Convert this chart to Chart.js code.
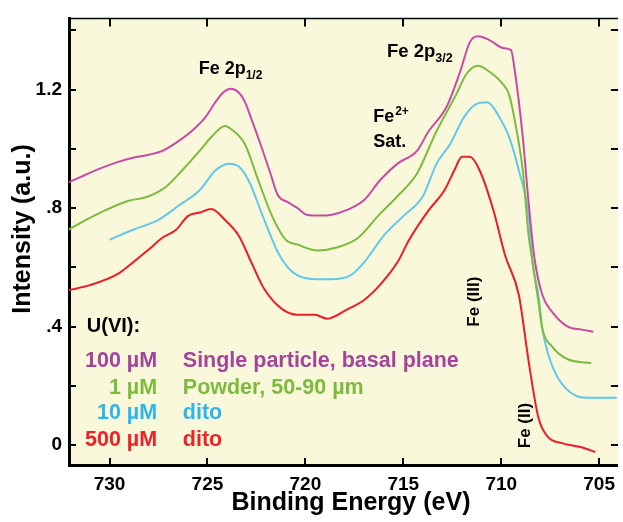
<!DOCTYPE html>
<html>
<head>
<meta charset="utf-8">
<script src="https://cdn.jsdelivr.net/npm/chart.js@4.4.0/dist/chart.umd.min.js"></script>
<style>
  html, body { margin: 0; padding: 0; background: #fff; }
</style>
</head>
<body>
<canvas id="myChart" width="623" height="522"></canvas>
<script>
// binding energy (eV) / intensity (a.u.)
var energy100 = [732.1, 731.3, 730.5, 729.6, 728.8, 728.0, 727.3, 726.5, 725.8, 725.1, 724.6, 724.2, 723.8, 723.4, 723.1, 722.7, 722.3, 721.8, 721.4, 720.9, 720.4, 719.9, 719.3, 718.7, 717.9, 717.0, 716.2, 715.3, 714.3, 713.7, 712.8, 712.1, 711.6, 711.2, 710.6, 709.9, 709.5, 709.3, 708.9, 708.6, 708.3, 707.9, 707.4, 706.6, 705.9, 705.3];
var intens100 = [0.887, 0.91, 0.933, 0.955, 0.97, 0.98, 0.993, 1.025, 1.06, 1.107, 1.157, 1.19, 1.203, 1.19, 1.16, 1.09, 1.017, 0.92, 0.843, 0.82, 0.80, 0.777, 0.775, 0.777, 0.793, 0.827, 0.893, 0.95, 0.993, 1.06, 1.14, 1.26, 1.36, 1.38, 1.367, 1.34, 1.333, 1.26, 1.04, 0.817, 0.63, 0.507, 0.45, 0.40, 0.39, 0.383];

var energy1 = [732.1, 731.2, 730.2, 729.1, 728.0, 727.1, 726.3, 725.4, 724.8, 724.1, 723.8, 723.1, 722.4, 721.7, 721.0, 720.4, 719.4, 718.4, 717.3, 716.3, 715.3, 714.3, 713.3, 712.3, 711.8, 711.2, 710.6, 709.9, 709.6, 709.3, 708.9, 708.6, 708.4, 708.1, 707.9, 707.4, 706.6, 705.4];
var intens1 = [0.727, 0.76, 0.793, 0.823, 0.84, 0.873, 0.927, 0.993, 1.04, 1.077, 1.067, 1.017, 0.893, 0.773, 0.693, 0.677, 0.657, 0.667, 0.70, 0.773, 0.84, 0.917, 1.06, 1.183, 1.25, 1.28, 1.26, 1.217, 1.183, 1.093, 0.927, 0.707, 0.617, 0.483, 0.393, 0.333, 0.29, 0.277];

var energy10 = [730.0, 728.8, 727.5, 726.5, 725.4, 724.6, 723.9, 723.4, 722.9, 722.1, 721.4, 720.9, 720.4, 719.4, 718.7, 717.7, 717.0, 716.0, 715.0, 714.0, 713.3, 712.6, 711.9, 711.3, 710.7, 710.1, 709.6, 709.1, 708.6, 708.4, 708.1, 707.9, 707.6, 707.1, 706.2, 705.6, 704.1];
var intens10 = [0.693, 0.727, 0.76, 0.807, 0.86, 0.927, 0.95, 0.94, 0.893, 0.76, 0.65, 0.60, 0.573, 0.56, 0.56, 0.573, 0.617, 0.707, 0.773, 0.84, 0.95, 1.017, 1.107, 1.15, 1.157, 1.107, 1.04, 0.927, 0.773, 0.617, 0.507, 0.393, 0.307, 0.227, 0.167, 0.16, 0.16];

var energy500 = [732.1, 731.0, 729.6, 728.8, 728.0, 727.3, 726.6, 726.0, 725.4, 724.8, 724.1, 723.4, 722.8, 722.1, 721.2, 720.4, 719.5, 718.9, 717.9, 717.0, 716.2, 715.3, 714.7, 713.7, 712.9, 712.4, 712.0, 711.6, 711.1, 710.4, 709.8, 709.1, 708.6, 708.1, 707.6, 706.9, 705.9, 705.2];
var intens500 = [0.523, 0.54, 0.577, 0.617, 0.66, 0.70, 0.727, 0.773, 0.785, 0.797, 0.76, 0.707, 0.623, 0.527, 0.46, 0.44, 0.44, 0.427, 0.457, 0.49, 0.54, 0.617, 0.693, 0.793, 0.86, 0.927, 0.973, 0.973, 0.927, 0.793, 0.64, 0.507, 0.283, 0.093, 0.027, 0.007, -0.007, -0.023];

var xTickValues = [730, 725, 720, 715, 710, 705];
var yTickValues = [0, 0.2, 0.4, 0.6, 0.8, 1.0, 1.2, 1.4];
var yTickLabels = ['0', '', '.4', '', '.8', '', '1.2', ''];

var concLabels = ['100 µM', '1 µM', '10 µM', '500 µM'];
var sampleLabels = ['Single particle, basal plane', 'Powder, 50-90 µm', 'dito', 'dito'];

var lineColors = ['#C84AA8', '#7DBB3E', '#62C8EA', '#EE1C25'];
var textColors = ['#A4449C', '#7CBB40', '#2CB6EA', '#EE2229'];

var FONT = 'Arial, "Liberation Sans", sans-serif';

function pts(ex, iy) {
    return ex.map(function (e, i) { return { x: e, y: iy[i] }; });
}

function serie(ex, iy, color) {
    return {
        data: pts(ex, iy),
        borderColor: color,
        borderWidth: 2,
        pointRadius: 0,
        fill: false,
        cubicInterpolationMode: 'monotone'
    };
}

// background + frame + inward ticks + titles + annotations
var decor = {
    id: 'decor',
    beforeDraw: function (chart) {
        var a = chart.chartArea, ctx = chart.ctx;
        ctx.save();
        ctx.fillStyle = '#FAF8DA';
        ctx.fillRect(a.left, a.top, a.right - a.left, a.bottom - a.top);
        ctx.restore();
    },
    afterDraw: function (chart) {
        var a = chart.chartArea, ctx = chart.ctx;
        var sx = chart.scales.x, sy = chart.scales.y;
        ctx.save();
        ctx.strokeStyle = '#000';
        // top frame
        ctx.lineWidth = 1.5;
        ctx.beginPath();
        ctx.moveTo(a.left, a.top);
        ctx.lineTo(a.right, a.top);
        ctx.stroke();
        // ticks
        ctx.lineWidth = 2;
        ctx.beginPath();
        xTickValues.forEach(function (v) {
            var px = Math.round(sx.getPixelForValue(v));
            ctx.moveTo(px, a.top); ctx.lineTo(px, a.top + 8);
            ctx.moveTo(px, a.bottom); ctx.lineTo(px, a.bottom - 7);
        });
        yTickValues.forEach(function (v) {
            var py = Math.round(sy.getPixelForValue(v));
            ctx.moveTo(a.left, py); ctx.lineTo(a.left + 7, py);
            ctx.moveTo(a.right, py); ctx.lineTo(a.right - 7, py);
        });
        ctx.stroke();

        function X(v) { return sx.getPixelForValue(v); }
        function Y(v) { return sy.getPixelForValue(v); }

        ctx.fillStyle = '#000';

        // axis titles
        ctx.font = 'bold 25px ' + FONT;
        ctx.textAlign = 'center';
        ctx.textBaseline = 'alphabetic';
        ctx.fillText('Binding Energy (eV)', 351, 510);
        ctx.save();
        ctx.translate(30, 229);
        ctx.rotate(-Math.PI / 2);
        ctx.fillText('Intensity (a.u.)', 0, 0);
        ctx.restore();

        ctx.textAlign = 'left';

        // Fe 2p1/2
        ctx.font = 'bold 18px ' + FONT;
        var x0 = X(725.45), y0 = Y(1.253);
        ctx.fillText('Fe 2p', x0, y0);
        var w = ctx.measureText('Fe 2p').width;
        ctx.font = 'bold 12px ' + FONT;
        ctx.fillText('1/2', x0 + w, y0 + 5);

        // Fe 2p3/2
        ctx.font = 'bold 18.5px ' + FONT;
        x0 = X(715.83); y0 = Y(1.31);
        ctx.fillText('Fe 2p', x0, y0);
        w = ctx.measureText('Fe 2p').width;
        ctx.font = 'bold 12.5px ' + FONT;
        ctx.fillText('3/2', x0 + w, y0 + 5);

        // Fe2+ Sat.
        ctx.font = 'bold 18px ' + FONT;
        x0 = X(716.54); y0 = Y(1.09);
        ctx.fillText('Fe', x0, y0);
        w = ctx.measureText('Fe').width;
        ctx.font = 'bold 12px ' + FONT;
        ctx.fillText('2+', x0 + w + 1, y0 - 7);
        ctx.font = 'bold 18px ' + FONT;
        ctx.fillText('Sat.', X(716.54), Y(1.007));

        // rotated labels
        ctx.font = 'bold 17px ' + FONT;
        ctx.save();
        ctx.translate(X(711.15), Y(0.40));
        ctx.rotate(-Math.PI / 2);
        ctx.fillText('Fe (III)', 0, 0);
        ctx.restore();
        ctx.save();
        ctx.translate(X(708.55), Y(-0.01));
        ctx.rotate(-Math.PI / 2);
        ctx.fillText('Fe (II)', 0, 0);
        ctx.restore();

        // key
        ctx.font = 'bold 20px ' + FONT;
        ctx.fillText('U(VI):', X(731.16), Y(0.383));
        ctx.font = 'bold 21.5px ' + FONT;
        var rows = [0.263, 0.173, 0.087, -0.003];
        for (var i = 0; i < concLabels.length; i++) {
            ctx.fillStyle = textColors[i];
            ctx.textAlign = 'right';
            ctx.fillText(concLabels[i], X(727.57), Y(rows[i]));
            ctx.textAlign = 'left';
            ctx.fillText(sampleLabels[i], X(726.26), Y(rows[i]));
        }
        ctx.restore();
    }
};

var ctx = document.getElementById('myChart').getContext('2d');
var chart = new Chart(ctx, {
    type: 'line',
    data: {
        datasets: [
            serie(energy100, intens100, lineColors[0]),
            serie(energy1, intens1, lineColors[1]),
            serie(energy10, intens10, lineColors[2]),
            serie(energy500, intens500, lineColors[3])
        ]
    },
    options: {
        responsive: false,
        animation: false,
        devicePixelRatio: 1,
        layout: { padding: { top: 12, right: 0, bottom: 0, left: 0 } },
        plugins: { legend: { display: false }, tooltip: { enabled: false } },
        scales: {
            x: {
                type: 'linear',
                reverse: true,
                min: 704.04,
                max: 732.07,
                afterBuildTicks: function (s) { s.ticks = xTickValues.map(function (v) { return { value: v }; }); },
                afterFit: function (s) { s.height = 57; },
                grid: { display: false, drawTicks: false },
                border: { display: true, color: '#000', width: 3 },
                ticks: { color: '#000', padding: 8, font: { family: FONT, size: 19, weight: 'bold' }, maxRotation: 0 },
                title: { display: false }
            },
            y: {
                min: -0.0667,
                max: 1.44,
                afterBuildTicks: function (s) { s.ticks = yTickValues.map(function (v) { return { value: v }; }); },
                afterFit: function (s) { s.width = 69; },
                grid: { display: false, drawTicks: false },
                border: { display: true, color: '#000', width: 3 },
                ticks: {
                    color: '#000', padding: 7, font: { family: FONT, size: 19, weight: 'bold' },
                    callback: function (v, i) { return yTickLabels[i]; }
                },
                title: { display: false }
            }
        }
    },
    plugins: [decor]
});
</script>
</body>
</html>
